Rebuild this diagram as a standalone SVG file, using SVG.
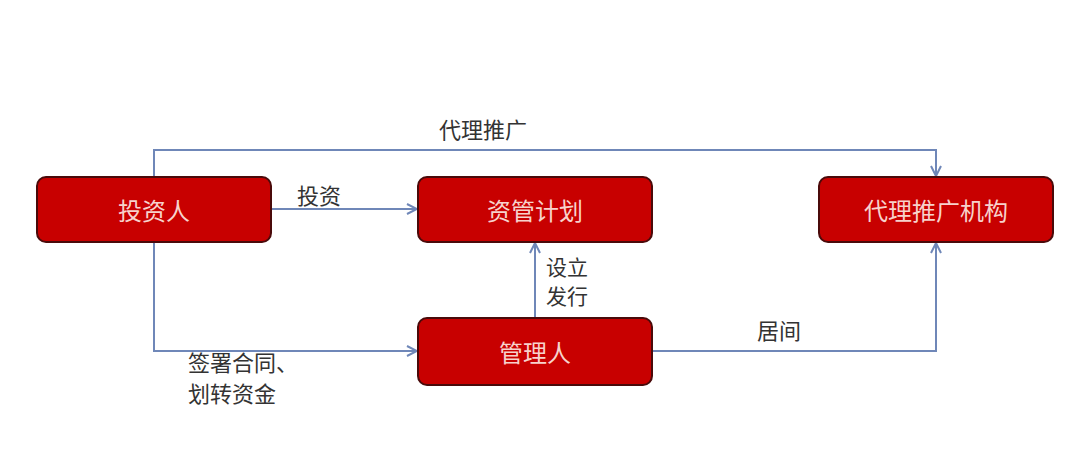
<svg xmlns="http://www.w3.org/2000/svg" width="1088" height="475" viewBox="0 0 1088 475">
<style>
.box{fill:#c80000;stroke:#4a0a0a;stroke-width:2}
.bt{font-family:"Noto Sans CJK SC",sans-serif;font-size:24px;fill:#f7d2cc;text-anchor:middle;dominant-baseline:central}
.lb{font-family:"Noto Sans CJK SC",sans-serif;font-size:22px;fill:#333333}
.ln{fill:none;stroke:#6f87b8;stroke-width:2}
</style>
<defs>
<marker id="ah" viewBox="0 0 12 12" refX="11" refY="6" markerWidth="12" markerHeight="12" markerUnits="userSpaceOnUse" orient="auto">
<path d="M1,1 L11,6 L1,11" fill="none" stroke="#6f87b8" stroke-width="2"/>
</marker>
</defs>
<rect width="1088" height="475" fill="#ffffff"/>
<g id="connectors">
<path class="ln" d="M154,177 V150 H936 V176" marker-end="url(#ah)"/>
<path class="ln" d="M271,209 H417" marker-end="url(#ah)"/>
<path class="ln" d="M154,242 V351 H417" marker-end="url(#ah)"/>
<path class="ln" d="M535,317 V243" marker-end="url(#ah)"/>
<path class="ln" d="M652,351 H936 V243" marker-end="url(#ah)"/>
</g>
<g id="labels">
<text class="lb" x="439" y="138">代理推广</text>
<text class="lb" x="297" y="204">投资</text>
<text class="lb" x="546" y="275" style="font-size:21px">设立</text>
<text class="lb" x="546" y="304" style="font-size:21px">发行</text>
<text class="lb" x="757" y="339">居间</text>
<text class="lb" x="188" y="371">签署合同、</text>
<text class="lb" x="188" y="402">划转资金</text>
</g>
<g id="node-investor">
<rect class="box" x="37" y="177" width="234" height="65" rx="9"/>
<text class="bt" x="154" y="209.5">投资人</text>
</g>
<g id="node-plan">
<rect class="box" x="418" y="177" width="234" height="65" rx="9"/>
<text class="bt" x="535" y="209.5">资管计划</text>
</g>
<g id="node-manager">
<rect class="box" x="418" y="318" width="234" height="67" rx="9"/>
<text class="bt" x="535" y="351.5">管理人</text>
</g>
<g id="node-agency">
<rect class="box" x="819" y="177" width="234" height="65" rx="9"/>
<text class="bt" x="936" y="209.5">代理推广机构</text>
</g>
</svg>
